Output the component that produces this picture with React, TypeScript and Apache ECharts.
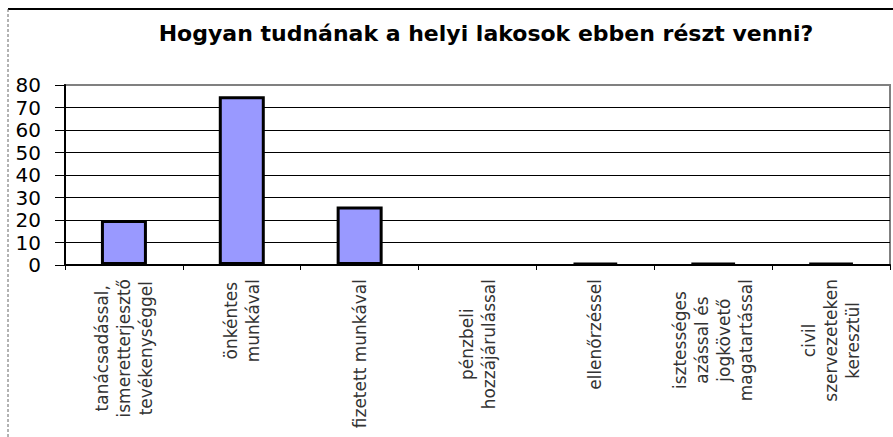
import React, { useEffect, useRef } from "react";
import * as echarts from "echarts";

const titleText = "Hogyan tudnának a helyi lakosok ebben részt venni?";
const categories = [
  "tanácsadással,\nismeretterjesztő\ntevékenységgel",
  "önkéntes\nmunkával",
  "fizetett munkával",
  "pénzbeli\nhozzájárulással",
  "ellenőrzéssel",
  "isztességes\nazással és\njogkövető\nmagatartással",
  "civil\nszervezeteken\nkeresztül",
];
const values = [20, 75, 26, 0, 1, 1, 1];
const yTicks = { min: 0, max: 80, interval: 10 };

export default function App() {
  const ref = useRef<HTMLDivElement>(null);
  useEffect(() => {
    if (!ref.current) return;
    const chart = echarts.init(ref.current, undefined, { renderer: "svg" });
    const nLines = (yTicks.max - yTicks.min) / yTicks.interval + 1;
    const splitColors = Array.from({ length: nLines }, (_, i) =>
      i === nLines - 1 ? "#808080" : "#000000"
    );
    chart.setOption({
      animation: false,
      backgroundColor: "#ffffff",
      title: {
        text: titleText,
        left: 481,
        textAlign: "center",
        top: 17,
        textStyle: {
          fontFamily: "DejaVu Sans, sans-serif",
          fontWeight: "bold",
          fontSize: 22,
          color: "#000",
        },
      },
      graphic: [
        {
          type: "line",
          shape: { x1: 8, y1: 9, x2: 893, y2: 9 },
          style: { stroke: "#000", lineWidth: 2 },
          z: 100,
        },
        {
          type: "line",
          shape: { x1: 8, y1: 9, x2: 8, y2: 437 },
          style: { stroke: "#666", lineWidth: 1, lineDash: [3, 2] },
          z: 100,
        },
      ],
      grid: {
        left: 65,
        right: 3,
        top: 85,
        bottom: 172,
        show: true,
        borderColor: "#808080",
        borderWidth: 2,
        containLabel: false,
        outerBoundsMode: "none",
      },
      xAxis: {
        type: "category",
        data: categories,
        boundaryGap: true,
        axisLine: { show: true, lineStyle: { color: "#000", width: 2 } },
        axisTick: { show: true, length: 5, lineStyle: { color: "#000", width: 1 } },
        axisLabel: {
          interval: 0,
          rotate: 90,
          margin: 14,
          hideOverlap: false,
          color: "#333",
          fontFamily: "DejaVu Sans, sans-serif",
          fontSize: 17,
          lineHeight: 22,
          formatter: (v: string) =>
            v
              .split("\n")
              .map((l) => `{c|${l}}`)
              .join("\n"),
          rich: {
            c: {
              align: "center",
              color: "#333",
              fontFamily: "DejaVu Sans, sans-serif",
              fontSize: 17,
              lineHeight: 22,
            },
          },
        },
      },
      yAxis: {
        type: "value",
        min: yTicks.min,
        max: yTicks.max,
        interval: yTicks.interval,
        axisLine: { show: true, lineStyle: { color: "#000", width: 2 } },
        axisTick: { show: true, length: 10, lineStyle: { color: "#000", width: 1 } },
        axisLabel: {
          margin: 24,
          showMinLabel: true,
          showMaxLabel: true,
          hideOverlap: false,
          color: "#000",
          fontFamily: "DejaVu Sans, sans-serif",
          fontSize: 20,
          lineHeight: 20,
        },
        splitLine: { show: true, lineStyle: { color: splitColors, width: 1 } },
      },
      series: [
        {
          type: "bar",
          barWidth: 46,
          data: values.map((v) => ({
            value: v,
            itemStyle: { borderWidth: v === 0 ? 0 : 3 },
          })),
          itemStyle: { color: "#9999FF", borderColor: "#000", borderWidth: 3 },
        },
      ],
    });
    return () => chart.dispose();
  }, []);
  return (
    <div
      ref={ref}
      style={{ position: "absolute", left: 0, top: 0, width: 893, height: 437 }}
    />
  );
}
